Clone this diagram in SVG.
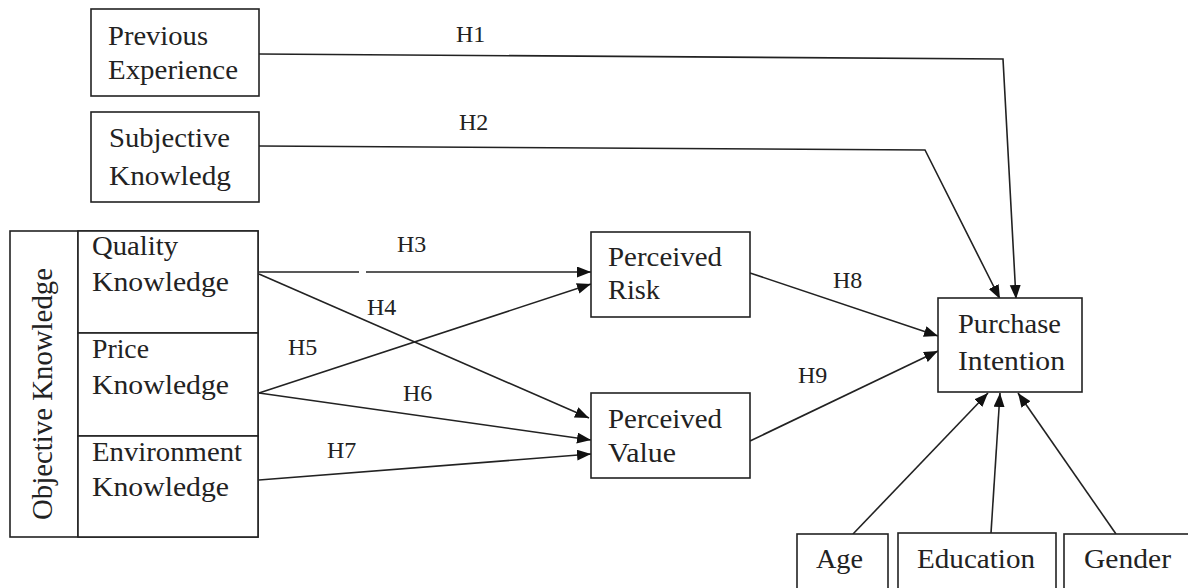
<svg xmlns="http://www.w3.org/2000/svg" width="1188" height="588" viewBox="0 0 1188 588">
<defs>
<style>
.box{fill:#fff;stroke:#222;stroke-width:1.6}
.t{font-family:"Liberation Serif","Times New Roman",serif;font-size:28px;fill:#222}
.lbl{font-family:"Liberation Serif","Times New Roman",serif;font-size:24px;fill:#222}
.c{fill:none;stroke:#222;stroke-width:1.6;marker-end:url(#ah)}
.p{fill:none;stroke:#222;stroke-width:1.6}
</style>
<marker id="ah" markerUnits="userSpaceOnUse" markerWidth="16" markerHeight="12" refX="14" refY="5.5" orient="auto">
<path d="M0,0 L14,5.5 L0,11 z" fill="#111"/>
</marker>
</defs>
<rect width="1188" height="588" fill="#fff"/>

<g id="connectors">
<polyline class="c" points="259,54 1003,59 1016,299"/>
<polyline class="c" points="259,146 925,150 1000,299"/>
<line class="p" x1="259" y1="272" x2="359" y2="272"/>
<line class="c" x1="366" y1="272" x2="591" y2="272"/>
<line class="c" x1="259" y1="274" x2="589" y2="418"/>
<line class="c" x1="259" y1="393" x2="591" y2="284"/>
<line class="c" x1="259" y1="393" x2="591" y2="440"/>
<line class="c" x1="259" y1="480" x2="591" y2="454"/>
<line class="c" x1="750" y1="273" x2="938" y2="336"/>
<line class="c" x1="750" y1="441" x2="938" y2="351"/>
<line class="c" x1="853" y1="534" x2="988" y2="393"/>
<line class="c" x1="991" y1="533" x2="1000" y2="393"/>
<line class="c" x1="1116" y1="534" x2="1018" y2="393"/>
</g>

<g id="labels">
<text class="lbl" x="456" y="42">H1</text>
<text class="lbl" x="459" y="130">H2</text>
<text class="lbl" x="397" y="252">H3</text>
<text class="lbl" x="367" y="315">H4</text>
<text class="lbl" x="288" y="355">H5</text>
<text class="lbl" x="403" y="401">H6</text>
<text class="lbl" x="327" y="458">H7</text>
<text class="lbl" x="833" y="288">H8</text>
<text class="lbl" x="798" y="383">H9</text>
</g>

<g id="previous-experience">
<rect class="box" x="91" y="9" width="168" height="87"/>
<text class="t" x="108" y="45" textLength="100" lengthAdjust="spacingAndGlyphs">Previous</text>
<text class="t" x="108" y="79" textLength="130" lengthAdjust="spacingAndGlyphs">Experience</text>
</g>

<g id="subjective-knowledge">
<rect class="box" x="91" y="112" width="168" height="90"/>
<text class="t" x="109" y="147" textLength="121" lengthAdjust="spacingAndGlyphs">Subjective</text>
<text class="t" x="109" y="185" textLength="122" lengthAdjust="spacingAndGlyphs">Knowledg</text>
</g>

<g id="objective-knowledge">
<rect class="box" x="10" y="231" width="248" height="306"/>
<line x1="78" y1="231" x2="78" y2="537" stroke="#222" stroke-width="1.6"/>
<text class="t" transform="translate(52,394) rotate(-90)" text-anchor="middle" style="font-size:29px" textLength="252" lengthAdjust="spacingAndGlyphs">Objective Knowledge</text>
</g>

<g id="quality-knowledge">
<rect class="box" x="78" y="231" width="180" height="102" fill="none"/>
<text class="t" x="92" y="255" textLength="86" lengthAdjust="spacingAndGlyphs">Quality</text>
<text class="t" x="92" y="291" textLength="137" lengthAdjust="spacingAndGlyphs">Knowledge</text>
</g>

<g id="price-knowledge">
<rect class="box" x="78" y="333" width="180" height="103"/>
<text class="t" x="92" y="358" textLength="57" lengthAdjust="spacingAndGlyphs">Price</text>
<text class="t" x="92" y="394" textLength="137" lengthAdjust="spacingAndGlyphs">Knowledge</text>
</g>

<g id="environment-knowledge">
<rect class="box" x="78" y="436" width="180" height="101"/>
<text class="t" x="92" y="461" textLength="150" lengthAdjust="spacingAndGlyphs">Environment</text>
<text class="t" x="92" y="496" textLength="137" lengthAdjust="spacingAndGlyphs">Knowledge</text>
</g>

<g id="perceived-risk">
<rect class="box" x="591" y="232" width="159" height="85"/>
<text class="t" x="608" y="266" textLength="114" lengthAdjust="spacingAndGlyphs">Perceived</text>
<text class="t" x="608" y="299" textLength="52" lengthAdjust="spacingAndGlyphs">Risk</text>
</g>

<g id="perceived-value">
<rect class="box" x="591" y="393" width="159" height="85"/>
<text class="t" x="608" y="428" textLength="114" lengthAdjust="spacingAndGlyphs">Perceived</text>
<text class="t" x="608" y="462" textLength="68" lengthAdjust="spacingAndGlyphs">Value</text>
</g>

<g id="purchase-intention">
<rect class="box" x="938" y="298" width="144" height="94"/>
<text class="t" x="958" y="333" textLength="103" lengthAdjust="spacingAndGlyphs">Purchase</text>
<text class="t" x="958" y="370" textLength="107" lengthAdjust="spacingAndGlyphs">Intention</text>
</g>

<g id="age">
<rect class="box" x="797" y="534" width="91" height="64"/>
<text class="t" x="816" y="568" textLength="47" lengthAdjust="spacingAndGlyphs">Age</text>
</g>

<g id="education">
<rect class="box" x="898" y="533" width="158" height="64"/>
<text class="t" x="917" y="568" textLength="118" lengthAdjust="spacingAndGlyphs">Education</text>
</g>

<g id="gender">
<rect class="box" x="1064" y="534" width="130" height="64"/>
<text class="t" x="1084" y="568" textLength="87" lengthAdjust="spacingAndGlyphs">Gender</text>
</g>
</svg>
